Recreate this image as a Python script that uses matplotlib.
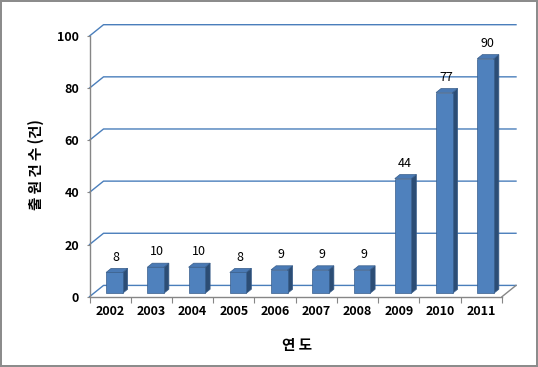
import numpy as np
import matplotlib
matplotlib.use("Agg")
import matplotlib.pyplot as plt
from matplotlib.patches import Polygon, Rectangle

plt.rcParams["font.family"] = ["Noto Sans CJK KR", "DejaVu Sans"]

# data
years = ["2002", "2003", "2004", "2005", "2006", "2007", "2008", "2009", "2010", "2011"]
counts = [8, 10, 10, 8, 9, 9, 9, 44, 77, 90]
y_ticks = [0, 20, 40, 60, 80, 100]
x_label = "연 도"
y_label = "출 원 건 수 (건)"

# pseudo-3d geometry (data units)
DX = 0.34      # depth shift in category units
DY = 4.33      # depth shift in value units
BW = 0.40      # bar front width
F = 0.30       # bar front depth fraction
D = 0.36       # bar depth fraction

front_c = "#4F81BD"
side_c = "#2C4D75"
top_c = "#4A7AB5"
edge_c = "#385D8A"
grid_c = "#4A7EBB"
axis_c = "#868686"

W, H = 538, 367
fig = plt.figure(figsize=(W / 100, H / 100), dpi=100)
fig.patch.set_facecolor("white")
fig.patch.set_edgecolor("#8C8C8C")
fig.patch.set_linewidth(1.5)

ax = fig.add_axes([89.5 / W, (H - 296.7) / H, (516 - 89.5) / W, (296.7 - 24.7) / H])
n = len(years)
ax.set_xlim(-0.5, n - 0.5 + DX)
ax.set_ylim(0, 100 + DY)
ax.patch.set_alpha(0)

# back wall gridlines with diagonal on side wall
for v in y_ticks:
    ax.plot([-0.5, -0.5 + DX, n - 0.5 + DX], [v, v + DY, v + DY],
            color=grid_c, lw=1.0, clip_on=False, zorder=1)

# floor right edge
ax.plot([n - 0.5, n - 0.5 + DX], [0, DY], color=axis_c, lw=1.0, clip_on=False, zorder=1)

# bars
for i, v in enumerate(counts):
    x0 = i - BW / 2 + F * DX
    y0 = F * DY
    sx, sy = D * DX, D * DY
    side = Polygon([(x0 + BW, y0), (x0 + BW + sx, y0 + sy),
                    (x0 + BW + sx, y0 + v + sy), (x0 + BW, y0 + v)],
                   closed=True, fc=side_c, ec=edge_c, lw=0.5, zorder=3)
    top = Polygon([(x0, y0 + v), (x0 + sx, y0 + v + sy),
                   (x0 + BW + sx, y0 + v + sy), (x0 + BW, y0 + v)],
                  closed=True, fc=top_c, ec=edge_c, lw=0.5, zorder=3)
    front = Rectangle((x0, y0), BW, v, fc=front_c, ec=edge_c, lw=0.5, zorder=4)
    ax.add_patch(side)
    ax.add_patch(top)
    ax.add_patch(front)
    ax.annotate(str(v), (x0 + BW / 2 + sx / 3, y0 + v), xytext=(0, 11),
                textcoords="offset points", ha="center", va="center",
                fontsize=9, color="black", zorder=5, annotation_clip=False)

# axes spines
for s in ["top", "right"]:
    ax.spines[s].set_visible(False)
ax.spines["left"].set_bounds(0, 100)
ax.spines["bottom"].set_bounds(-0.5, n - 0.5)
for s in ["left", "bottom"]:
    ax.spines[s].set_color(axis_c)
    ax.spines[s].set_linewidth(1.0)

ax.set_yticks(y_ticks)
ax.set_yticklabels([str(t) for t in y_ticks], fontsize=9, fontweight="bold")
ax.tick_params(axis="y", length=2.5, color=axis_c, pad=5)

ax.set_xticks(np.arange(-0.5, n), labels=[])
ax.set_xticks(np.arange(n), labels=years, minor=True, fontsize=9, fontweight="bold")
ax.tick_params(axis="x", which="major", length=4, color=axis_c)
ax.tick_params(axis="x", which="minor", length=0, pad=6)

fig.text(297 / W, 1 - 345 / H, x_label, ha="center", va="center",
         fontsize=10.5, fontweight="bold")
fig.text(36 / W, 1 - 165 / H, y_label, ha="center", va="center",
         rotation=90, fontsize=10.5, fontweight="bold")

fig.savefig("out.png", dpi=100, facecolor=fig.get_facecolor(),
            edgecolor=fig.get_edgecolor())
